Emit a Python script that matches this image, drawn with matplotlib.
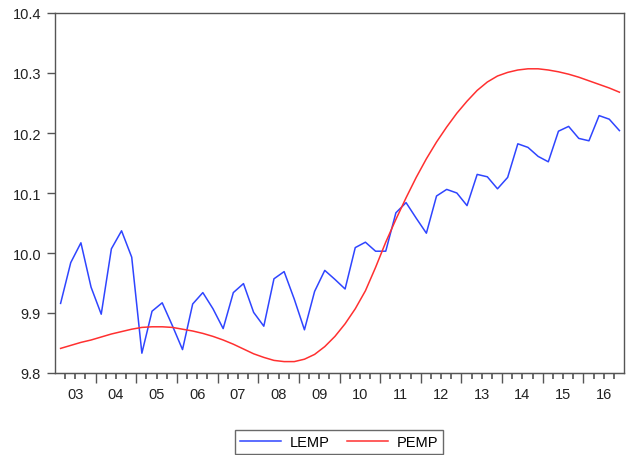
import numpy as np
import matplotlib
matplotlib.use("Agg")
import matplotlib.pyplot as plt
from matplotlib.ticker import FixedLocator, NullFormatter

plt.rcParams['font.family'] = ['Liberation Sans', 'DejaVu Sans']

# Quarterly observations, 2003Q1 - 2016Q4
start_year = 2003
end_year = 2017

lemp = [9.916, 9.984, 10.017, 9.943, 9.898, 10.007, 10.037, 9.993,
        9.833, 9.903, 9.917, 9.879, 9.839, 9.915, 9.934, 9.907,
        9.874, 9.934, 9.949, 9.901, 9.878, 9.957, 9.969, 9.923,
        9.872, 9.936, 9.971, 9.956, 9.940, 10.009, 10.018, 10.003,
        10.003, 10.067, 10.084, 10.058, 10.033, 10.095, 10.106, 10.100,
        10.079, 10.131, 10.127, 10.107, 10.126, 10.182, 10.176, 10.161,
        10.152, 10.203, 10.211, 10.191, 10.187, 10.229, 10.223, 10.204]

pemp = [9.841, 9.846, 9.851, 9.855, 9.860, 9.865, 9.869, 9.873,
        9.876, 9.877, 9.877, 9.876, 9.873, 9.870, 9.866, 9.861,
        9.855, 9.848, 9.840, 9.832, 9.826, 9.821, 9.819, 9.819,
        9.823, 9.831, 9.844, 9.861, 9.882, 9.907, 9.937, 9.976,
        10.018, 10.056, 10.092, 10.126, 10.157, 10.185, 10.210, 10.233,
        10.253, 10.271, 10.285, 10.295, 10.301, 10.305, 10.307, 10.307,
        10.305, 10.302, 10.298, 10.293, 10.287, 10.281, 10.275, 10.268]

year_labels = ["03", "04", "05", "06", "07", "08", "09",
               "10", "11", "12", "13", "14", "15", "16"]
y_ticks = [9.8, 9.9, 10.0, 10.1, 10.2, 10.3, 10.4]

n = len(lemp)
t = start_year + (np.arange(n) + 0.55) / 4.0

fig = plt.figure(figsize=(6.27, 4.56), dpi=100)
ax = fig.add_axes([55 / 627, 1 - 374 / 456, (624 - 55) / 627, (374 - 14) / 456])

blue = '#2f45ff'
red = '#ff3030'
ax.plot(t, lemp, color=blue, lw=1.1, label='LEMP')
ax.plot(t, pemp, color=red, lw=1.1, label='PEMP')

ax.set_xlim(start_year, end_year)
ax.set_ylim(9.8, 10.4)

frame_col = '#555555'
for s in ax.spines.values():
    s.set_color(frame_col)
    s.set_linewidth(1.0)

# y axis
ax.set_yticks(y_ticks)
ax.set_yticklabels([f"{v:.1f}" for v in y_ticks])
ax.tick_params(axis='y', direction='out', length=6, width=1.0, color=frame_col,
               labelsize=10.5, pad=4, labelcolor='#222222')

# x axis: year labels centered in each year
mid_years = np.arange(start_year, end_year) + 0.5
ax.xaxis.set_major_locator(FixedLocator(mid_years))
ax.set_xticklabels(year_labels)
ax.tick_params(axis='x', which='major', length=0, labelsize=10.5, pad=10,
               labelcolor='#222222')

# tick marks: long at year boundaries, short at quarters
sec = ax.secondary_xaxis('bottom')
sec.xaxis.set_major_locator(FixedLocator(np.arange(start_year + 1, end_year)))
sec.xaxis.set_major_formatter(NullFormatter())
quarters = [q for q in np.arange(start_year, end_year + 0.01, 0.25) if q % 1 != 0]
sec.xaxis.set_minor_locator(FixedLocator(quarters))
sec.xaxis.set_minor_formatter(NullFormatter())
sec.tick_params(axis='x', which='major', direction='out', length=7, width=1.0,
                color=frame_col)
sec.tick_params(axis='x', which='minor', direction='out', length=4.5, width=1.1,
                color='#444444')
sec.spines['bottom'].set_color(frame_col)

leg = fig.legend(loc='center', bbox_to_anchor=(339 / 627, 1 - 443 / 456), ncol=2,
                 frameon=True, fancybox=False, fontsize=10.5, handlelength=2.8,
                 columnspacing=1.2, handletextpad=0.6, borderpad=0.35)
leg.get_frame().set_edgecolor('#444444')
leg.get_frame().set_linewidth(1.0)

fig.savefig('out.png', dpi=100)
